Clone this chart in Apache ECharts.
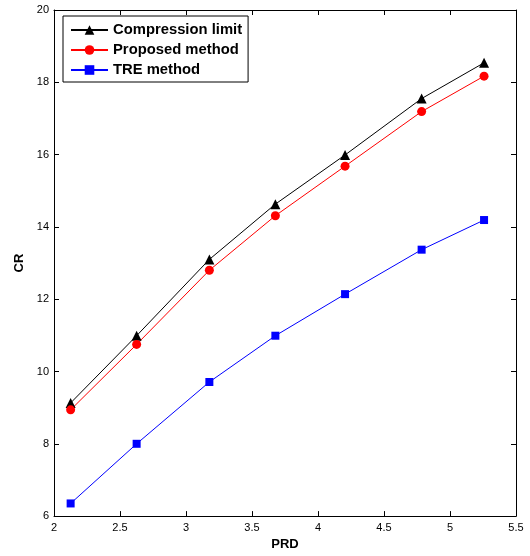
<!DOCTYPE html>
<html>
<head>
<meta charset="utf-8">
<script src="https://cdn.jsdelivr.net/npm/echarts@6/dist/echarts.min.js"></script>
<style>html,body{margin:0;padding:0;background:#fff;}#c{width:530px;height:556px;}</style>
</head>
<body>
<div id="c"></div>
<script>
var prd = [2.126, 2.626, 3.177, 3.677, 4.205, 4.785, 5.258];
var compressionLimit = [9.13, 10.99, 13.10, 14.63, 15.99, 17.55, 18.54];
var proposedMethod = [8.94, 10.75, 12.80, 14.31, 15.68, 17.19, 18.17];
var treMethod = [6.35, 8.00, 9.71, 10.99, 12.14, 13.37, 14.19];
var seriesNames = ['Compression limit', 'Proposed method', 'TRE method'];

function pairs(ys){ return prd.map(function(x,i){ return [x, ys[i]]; }); }

var font = 'Liberation Sans, Arial, sans-serif';
var chart = echarts.init(document.getElementById('c'), null, {renderer:'canvas'});
var axisCommon = {
  axisLine:{show:true, onZero:false, lineStyle:{color:'#000', width:1}},
  axisTick:{show:true, inside:true, length:5, lineStyle:{color:'#000'}},
  splitLine:{show:false}
};
chart.setOption({
  animation:false,
  backgroundColor:'#fff',
  grid:{left:54, right:14, top:10, bottom:35, containLabel:false},
  legend:{
    left:63, top:16, orient:'vertical',
    data:seriesNames,
    backgroundColor:'#fff', borderColor:'#000', borderWidth:1,
    padding:[6.5,6,4.5,7], itemGap:5, itemWidth:37, itemHeight:12,
    textStyle:{fontFamily:font, fontSize:14.8, fontWeight:'bold', color:'#000'}
  },
  xAxis:[
    Object.assign({type:'value', min:2, max:5.5, interval:0.5, position:'bottom',
      name:'PRD', nameLocation:'middle', nameGap:20,
      nameTextStyle:{fontFamily:font, fontSize:13, fontWeight:'bold', color:'#000'},
      axisLabel:{fontFamily:font, fontSize:11, color:'#000', margin:6}}, axisCommon),
    Object.assign({type:'value', min:2, max:5.5, interval:0.5, position:'top',
      axisLabel:{show:false}}, axisCommon)
  ],
  yAxis:[
    Object.assign({type:'value', min:6, max:20, interval:2, position:'left',
      name:'CR', nameLocation:'middle', nameGap:25, nameRotate:90,
      nameTextStyle:{fontFamily:font, fontSize:13, fontWeight:'bold', color:'#000'},
      axisLabel:{fontFamily:font, fontSize:11, color:'#000', margin:5}}, axisCommon),
    Object.assign({type:'value', min:6, max:20, interval:2, position:'right',
      axisLabel:{show:false}}, axisCommon)
  ],
  series:[
    {name:seriesNames[0], type:'line', data:pairs(compressionLimit), symbol:'triangle', symbolSize:10,
      lineStyle:{color:'#000', width:1}, itemStyle:{color:'#000'}},
    {name:seriesNames[1], type:'line', data:pairs(proposedMethod), symbol:'circle', symbolSize:9,
      lineStyle:{color:'#ff0000', width:1}, itemStyle:{color:'#ff0000'}},
    {name:seriesNames[2], type:'line', data:pairs(treMethod), symbol:'rect', symbolSize:8,
      lineStyle:{color:'#0000ff', width:1}, itemStyle:{color:'#0000ff'}}
  ]
});
</script>
</body>
</html>
